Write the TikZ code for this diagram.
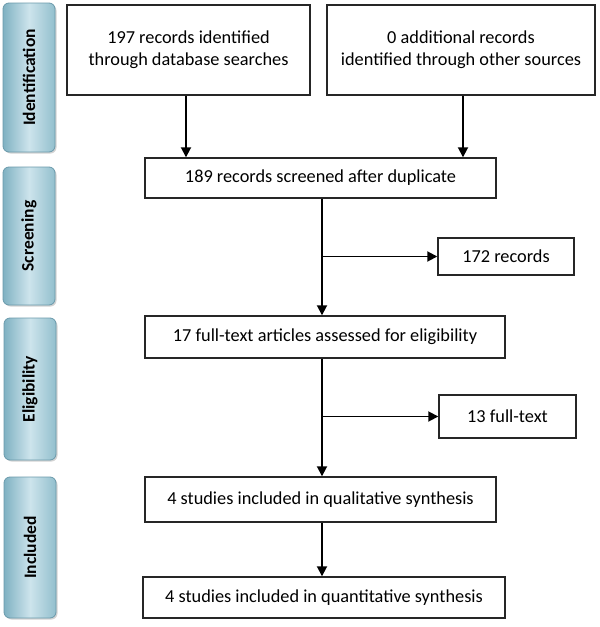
\documentclass[tikz,border=0pt]{standalone}
\usepackage{fontspec}
\setmainfont{Carlito}
\usetikzlibrary{arrows.meta,shadows}
\definecolor{tealA}{HTML}{7FB1C2}
\definecolor{tealB}{HTML}{CDE4EC}
\definecolor{tealC}{HTML}{92BFCD}
\definecolor{tealEdge}{HTML}{6A9AAB}
\begin{document}
\begin{tikzpicture}[x=1pt,y=-1pt,
  box/.style={draw=black!85,line width=1.4pt,inner sep=0pt,align=center,font=\fontsize{18.3}{22}\selectfont},
  stage/.style={draw=tealEdge,line width=0.8pt,rounded corners=6pt,left color=tealA,right color=tealC,middle color=tealB,
     drop shadow={shadow xshift=1.5pt,shadow yshift=-1.5pt,opacity=0.35},
     minimum width=52pt,inner sep=0pt},
  stagetext/.style={rotate=90,font=\fontsize{17.5}{20}\selectfont\bfseries},
  arr/.style={line width=1.8pt,-{Triangle[length=10pt,width=10pt]}}]
\useasboundingbox (0,0) rectangle (600,627);
% stage labels
\node[stage,minimum height=149pt] (idf) at (29,77.5) {};
\node[stagetext] at (idf) {Identification};
\node[stage,minimum height=138pt] (scr) at (29,236) {};
\node[stagetext] at (scr) {Screening};
\node[stage,minimum height=142pt] (elg) at (30,389) {};
\node[stagetext] at (elg) {Eligibility};
\node[stage,minimum height=141pt] (inc) at (30,547.5) {};
\node[stagetext] at (inc) {Included};
% boxes
\node[box,minimum width=243pt,minimum height=90pt] (b1) at (188.5,50) {197 records identified\\through database searches};
\node[box,minimum width=268pt,minimum height=90pt] (b2) at (461,50) {0 additional records\\identified through other sources};
\node[box,minimum width=351pt,minimum height=40pt] (b3) at (320.5,178) {189 records screened after duplicate};
\node[box,minimum width=136pt,minimum height=37pt] (b4) at (506,256.5) {172 records};
\node[box,minimum width=360pt,minimum height=42pt] (b5) at (325,337) {17 full-text articles assessed for eligibility};
\node[box,minimum width=137pt,minimum height=43pt] (b6) at (507.5,416.5) {13 full-text};
\node[box,minimum width=351pt,minimum height=45pt] (b7) at (320.5,499.5) {4 studies included in qualitative synthesis};
\node[box,minimum width=362pt,minimum height=41pt] (b8) at (324,597.5) {4 studies included in quantitative synthesis};
% spine coordinates
\coordinate (sp) at (322,0);
\coordinate (la) at (186,0);
\coordinate (ra) at (463,0);
% arrows
\draw[arr] (b1.south -| la) -- (b3.north -| la);
\draw[arr] (b2.south -| ra) -- (b3.north -| ra);
\draw[arr] (b3.south -| sp) -- (b5.north -| sp);
\draw[arr] (b4.west -| sp) -- (b4.west);
\draw[arr] (b5.south -| sp) -- (b7.north -| sp);
\draw[arr] (b6.west -| sp) -- (b6.west);
\draw[arr] (b7.south -| sp) -- (b8.north -| sp);
\end{tikzpicture}
\end{document}
